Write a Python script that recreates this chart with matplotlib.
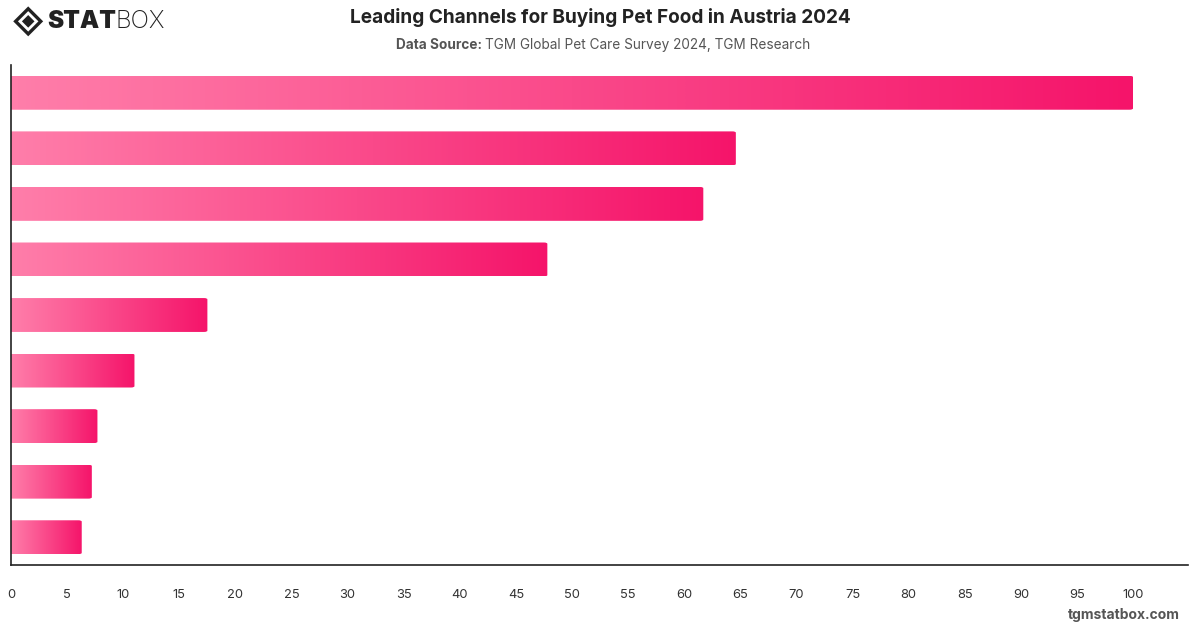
import numpy as np
import matplotlib
matplotlib.use("Agg")
import matplotlib.pyplot as plt
from matplotlib.colors import LinearSegmentedColormap
from matplotlib.patches import FancyBboxPatch, Polygon

# values, top bar first (channel names are not shown)
values = [100, 64.6, 61.7, 47.8, 17.5, 11.0, 7.7, 7.2, 6.3]
x_ticks = list(range(0, 101, 5))

title = "Leading Channels for Buying Pet Food in Austria 2024"
source = "TGM Global Pet Care Survey 2024, TGM Research"

plt.rcParams['font.family'] = ['Inter', 'DejaVu Sans']

fig = plt.figure(figsize=(12, 6.28), dpi=100)
ax = fig.add_axes([0.0092, 0.1003, 0.9808, 0.7962])

cmap = LinearSegmentedColormap.from_list("pink", ["#ff7eaa", "#f5146a"])
grad = np.linspace(0, 1, 256).reshape(1, -1)

n = len(values)
bar_h = 0.61
for i, v in enumerate(values):
    y = n - 1 - i
    img = ax.imshow(grad, cmap=cmap, aspect="auto", extent=[0, v, y - bar_h / 2, y + bar_h / 2],
                    interpolation="bicubic", zorder=2)
    box = FancyBboxPatch((-2, y - bar_h / 2), v + 2, bar_h,
                         boxstyle="round,pad=0,rounding_size=0.3", mutation_aspect=0.08,
                         transform=ax.transData, facecolor="none", edgecolor="none")
    ax.add_patch(box)
    img.set_clip_path(box)

ax.set_xlim(0, 104.9)
ax.set_ylim(-0.5, n - 0.5)
ax.set_xticks(x_ticks)
ax.set_xticklabels([str(t) for t in x_ticks], fontsize=9.3, color="#333333")
ax.tick_params(axis="x", length=0, pad=17)
ax.set_yticks([])
for s in ["top", "right"]:
    ax.spines[s].set_visible(False)
for s in ["left", "bottom"]:
    ax.spines[s].set_color("#222222")
    ax.spines[s].set_linewidth(1.2)

# title block
fig.text(0.5, 0.972, title, ha="center", va="center", fontsize=13.7, fontweight="bold", color="#222222")
fig.text(0.404, 0.929, "Data Source: ", ha="right", va="center", fontsize=9.8, fontweight="bold", color="#555555")
fig.text(0.404, 0.929, source, ha="left", va="center", fontsize=9.8, color="#555555")

# footer
fig.text(0.983, 0.021, "tgmstatbox.com", ha="right", va="center", fontsize=10, fontweight="bold", color="#555555")

# logo
cx, cy, r = 0.0235, 0.966, 0.0105
asp = 1200 / 628
outer = Polygon([(cx - r, cy), (cx, cy + r * asp), (cx + r, cy), (cx, cy - r * asp)],
                closed=True, transform=fig.transFigure, facecolor="none", edgecolor="#222222", lw=2.4)
inner = Polygon([(cx - r * 0.5, cy), (cx, cy + r * 0.5 * asp), (cx + r * 0.5, cy), (cx, cy - r * 0.5 * asp)],
                closed=True, transform=fig.transFigure, facecolor="#222222", edgecolor="none")
fig.add_artist(outer)
fig.add_artist(inner)
t1 = fig.text(0.039, 0.966, "STAT", ha="left", va="center", fontsize=17.5, fontweight="black", color="#222222")
fig.canvas.draw()
bb = t1.get_window_extent()
fig.text(bb.x1 / 1200, 0.966, "BOX", ha="left", va="center", fontsize=17.5, fontweight="light", color="#222222")

fig.savefig("out.png", dpi=100)
